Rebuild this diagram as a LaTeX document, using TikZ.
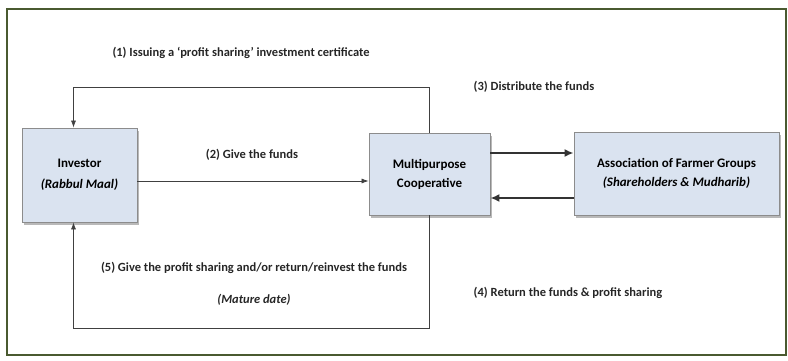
\documentclass[tikz,border=0pt]{standalone}
\usepackage{fontspec}
\setmainfont{Carlito}
\usetikzlibrary{shadows,arrows.meta}
\definecolor{boxfill}{HTML}{DAE3F0}
\definecolor{boxline}{HTML}{8C8C8C}
\definecolor{framegreen}{HTML}{4A5A30}
\tikzstyle{block}=[draw=boxline,fill=boxfill,line width=0.8pt,drop shadow={shadow xshift=2pt,shadow yshift=-3pt,fill=black!55},align=center,font=\bfseries\fontsize{13}{15}\selectfont,inner sep=0pt]
\tikzstyle{flow}=[-{Latex[length=7pt,width=5pt]},draw=black!75,line width=0.7pt]
\tikzstyle{bigflow}=[flow,-{Latex[length=9pt,width=8pt]},line width=2pt,draw=black!80]
\tikzstyle{lbl}=[font=\bfseries\fontsize{12.5}{15}\selectfont,text=black!85,align=center]

\begin{document}
\begin{tikzpicture}[x=1pt,y=1pt]
	\useasboundingbox (0,0) rectangle (788,360);
	\draw[framegreen,line width=2pt] (7,5) rectangle (786,351);
	
	\node[block,minimum width=115pt,minimum height=94pt] (inv) at (79.5,185) {Investor\\[6pt]\textit{(Rabbul Maal)}};
	\node[block,minimum width=121pt,minimum height=82pt] (coop) at (429.5,186) {Multipurpose\\[4pt]Cooperative};
	\node[block,minimum width=205pt,minimum height=83pt] (farm) at (676.5,186.5) {Association of Farmer Groups\\[4pt]\textit{(Shareholders \& Mudharib)}};
	
	\draw[flow] (coop.north) -- ++(0,45) -| ([xshift=-6pt]inv.north);
	\draw[flow] ([yshift=-6pt]inv.east) -- ([yshift=-6pt]inv.east -| coop.west);
	\draw[bigflow] ([yshift=21pt]coop.east) -- ([yshift=21pt]coop.east -| farm.west);
	\draw[bigflow] ([yshift=-24pt]coop.east -| farm.west) -- ([yshift=-24pt]coop.east);
	\draw[flow] (coop.south) -- ++(0,-113) -| ([xshift=-6pt]inv.south);
	
	\node[lbl] (l1) at (241,307) {(1) Issuing a `profit sharing' investment certificate};
	\node[lbl] (l2) at (252,205) {(2) Give the funds};
	\node[lbl] (l3) at (534,273) {(3) Distribute the funds};
	\node[lbl] (l4) at (568,67) {(4) Return the funds \& profit sharing};
	\node[lbl] (l5) at (254,76) {(5) Give the profit sharing and/or return/reinvest the funds\\[17pt]\textit{(Mature date)}};
\end{tikzpicture}
\end{document}
